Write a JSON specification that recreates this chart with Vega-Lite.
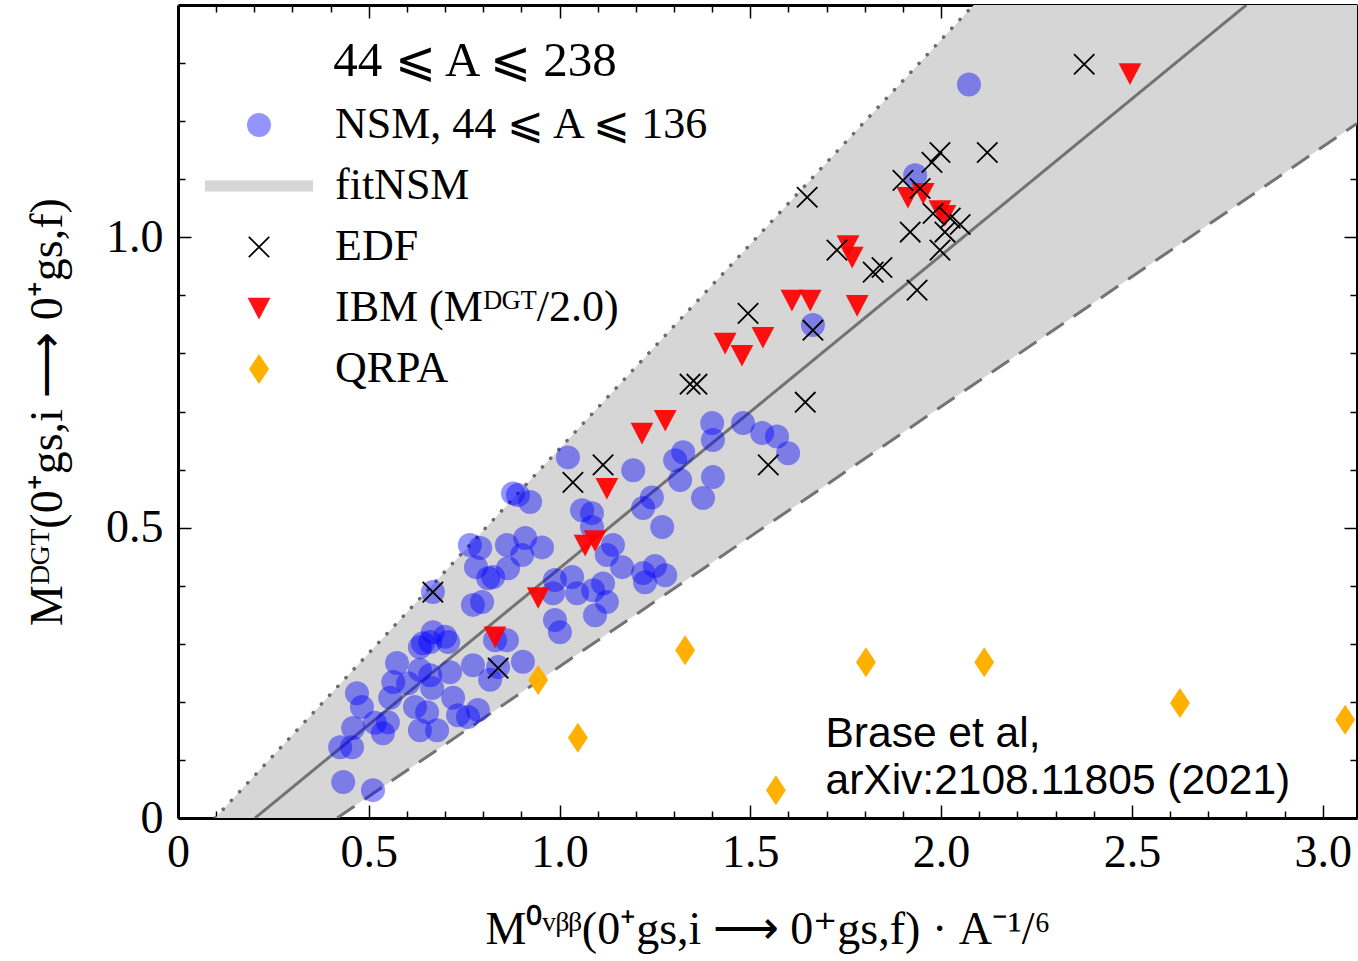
{
  "$schema": "https://vega.github.io/schema/vega-lite/v6.json",
  "width": 1179,
  "height": 813,
  "autosize": {"type": "none"},
  "padding": {"left": 178, "top": 5, "right": 1, "bottom": 143},
  "background": "white",
  "config": {
    "view": {"stroke": null},
    "axis": {
      "domainColor": "black", "domainWidth": 3, "tickColor": "black", "tickWidth": 1.5,
      "labelFont": "Liberation Serif", "labelFontSize": 46, "labelColor": "black",
      "titleFont": "Liberation Serif", "titleFontSize": 46, "titleFontWeight": "normal", "titleColor": "black",
      "grid": false, "labelOverlap": false, "labelFlush": false, "zindex": 1
    },
    "legend": {
      "titleFont": "Liberation Serif", "titleFontSize": 49, "titleFontWeight": "normal", "titleColor": "black",
      "titleAnchor": "middle", "titlePadding": 17, "titleLimit": 2000,
      "labelFont": "Liberation Serif", "labelFontSize": 44, "labelColor": "black", "labelLimit": 2000,
      "labelOffset": 54, "rowPadding": 17, "symbolSize": 576, "symbolStrokeWidth": 1.8, "symbolOpacity": 1, "padding": 0
    }
  },
  "datasets": {
    "band": [
      {"x": 0.097, "upper": 0, "lower": 0},
      {"x": 0.417, "upper": 0.2253, "lower": 0},
      {"x": 3.09, "upper": 2.107, "lower": 1.196}
    ],
    "lines": [
      {"line": "fit", "x": 0.202, "y": 0},
      {"line": "fit", "x": 2.80, "y": 1.40},
      {"line": "upper", "x": 0.097, "y": 0},
      {"line": "upper", "x": 2.085, "y": 1.40},
      {"line": "lower", "x": 0.417, "y": 0},
      {"line": "lower", "x": 3.09, "y": 1.196}
    ],
    "pts": [
      {"s":"NSM","x":0.433,"y":0.062},{"s":"NSM","x":0.511,"y":0.048},{"s":"NSM","x":0.425,"y":0.122},
      {"s":"NSM","x":0.456,"y":0.122},{"s":"NSM","x":0.459,"y":0.155},{"s":"NSM","x":0.516,"y":0.164},
      {"s":"NSM","x":0.537,"y":0.146},{"s":"NSM","x":0.550,"y":0.165},{"s":"NSM","x":0.469,"y":0.215},
      {"s":"NSM","x":0.482,"y":0.191},{"s":"NSM","x":0.556,"y":0.207},{"s":"NSM","x":0.564,"y":0.234},
      {"s":"NSM","x":0.603,"y":0.232},{"s":"NSM","x":0.621,"y":0.191},{"s":"NSM","x":0.653,"y":0.182},
      {"s":"NSM","x":0.634,"y":0.151},{"s":"NSM","x":0.679,"y":0.151},{"s":"NSM","x":0.574,"y":0.267},
      {"s":"NSM","x":0.634,"y":0.255},{"s":"NSM","x":0.661,"y":0.246},{"s":"NSM","x":0.666,"y":0.224},
      {"s":"NSM","x":0.713,"y":0.251},{"s":"NSM","x":0.721,"y":0.207},{"s":"NSM","x":0.734,"y":0.177},
      {"s":"NSM","x":0.760,"y":0.174},{"s":"NSM","x":0.786,"y":0.186},{"s":"NSM","x":0.773,"y":0.263},
      {"s":"NSM","x":0.818,"y":0.238},{"s":"NSM","x":0.839,"y":0.260},{"s":"NSM","x":0.904,"y":0.269},
      {"s":"NSM","x":0.634,"y":0.294},{"s":"NSM","x":0.642,"y":0.301},{"s":"NSM","x":0.668,"y":0.320},
      {"s":"NSM","x":0.661,"y":0.303},{"s":"NSM","x":0.700,"y":0.312},{"s":"NSM","x":0.708,"y":0.303},
      {"s":"NSM","x":0.831,"y":0.306},{"s":"NSM","x":0.862,"y":0.306},{"s":"NSM","x":0.668,"y":0.389},
      {"s":"NSM","x":0.773,"y":0.367},{"s":"NSM","x":0.797,"y":0.372},{"s":"NSM","x":0.781,"y":0.432},
      {"s":"NSM","x":0.813,"y":0.413},{"s":"NSM","x":0.765,"y":0.470},{"s":"NSM","x":0.792,"y":0.465},
      {"s":"NSM","x":0.826,"y":0.415},{"s":"NSM","x":0.865,"y":0.430},{"s":"NSM","x":0.862,"y":0.470},
      {"s":"NSM","x":0.910,"y":0.482},{"s":"NSM","x":0.954,"y":0.466},{"s":"NSM","x":0.902,"y":0.453},
      {"s":"NSM","x":0.988,"y":0.410},{"s":"NSM","x":1.033,"y":0.415},{"s":"NSM","x":0.983,"y":0.387},
      {"s":"NSM","x":1.046,"y":0.387},{"s":"NSM","x":1.088,"y":0.392},{"s":"NSM","x":1.114,"y":0.404},
      {"s":"NSM","x":1.124,"y":0.372},{"s":"NSM","x":1.093,"y":0.349},{"s":"NSM","x":1.219,"y":0.422},
      {"s":"NSM","x":1.250,"y":0.434},{"s":"NSM","x":1.277,"y":0.418},{"s":"NSM","x":1.224,"y":0.406},
      {"s":"NSM","x":0.988,"y":0.341},{"s":"NSM","x":1.001,"y":0.320},{"s":"NSM","x":1.140,"y":0.470},
      {"s":"NSM","x":1.164,"y":0.432},{"s":"NSM","x":1.124,"y":0.453},{"s":"NSM","x":1.022,"y":0.621},
      {"s":"NSM","x":1.193,"y":0.599},{"s":"NSM","x":0.878,"y":0.559},{"s":"NSM","x":0.891,"y":0.556},
      {"s":"NSM","x":0.923,"y":0.544},{"s":"NSM","x":1.059,"y":0.530},{"s":"NSM","x":1.085,"y":0.525},
      {"s":"NSM","x":1.085,"y":0.501},{"s":"NSM","x":1.242,"y":0.552},{"s":"NSM","x":1.219,"y":0.534},
      {"s":"NSM","x":1.269,"y":0.501},{"s":"NSM","x":1.316,"y":0.582},{"s":"NSM","x":1.324,"y":0.630},
      {"s":"NSM","x":1.303,"y":0.616},{"s":"NSM","x":1.402,"y":0.587},{"s":"NSM","x":1.376,"y":0.551},
      {"s":"NSM","x":1.400,"y":0.680},{"s":"NSM","x":1.402,"y":0.651},{"s":"NSM","x":1.481,"y":0.680},
      {"s":"NSM","x":1.531,"y":0.663},{"s":"NSM","x":1.570,"y":0.657},{"s":"NSM","x":1.599,"y":0.628},
      {"s":"NSM","x":1.664,"y":0.849},{"s":"NSM","x":1.932,"y":1.107},{"s":"NSM","x":2.073,"y":1.263},
      {"s":"QRPA","x":0.944,"y":0.2375},{"s":"QRPA","x":1.048,"y":0.138},{"s":"QRPA","x":1.329,"y":0.289},
      {"s":"QRPA","x":1.567,"y":0.048},{"s":"QRPA","x":1.803,"y":0.268},{"s":"QRPA","x":2.113,"y":0.268},
      {"s":"QRPA","x":2.626,"y":0.198},{"s":"QRPA","x":3.059,"y":0.169},
      {"s":"IBM","x":0.831,"y":0.312},{"s":"IBM","x":0.944,"y":0.380},{"s":"IBM","x":1.067,"y":0.470},
      {"s":"IBM","x":1.093,"y":0.478},{"s":"IBM","x":1.124,"y":0.568},{"s":"IBM","x":1.216,"y":0.663},
      {"s":"IBM","x":1.277,"y":0.685},{"s":"IBM","x":1.434,"y":0.818},{"s":"IBM","x":1.478,"y":0.797},
      {"s":"IBM","x":1.533,"y":0.828},{"s":"IBM","x":1.609,"y":0.892},{"s":"IBM","x":1.657,"y":0.892},
      {"s":"IBM","x":1.780,"y":0.883},{"s":"IBM","x":1.756,"y":0.986},{"s":"IBM","x":1.767,"y":0.966},
      {"s":"IBM","x":1.913,"y":1.069},{"s":"IBM","x":1.953,"y":1.076},{"s":"IBM","x":2.010,"y":1.038},
      {"s":"IBM","x":1.997,"y":1.046},{"s":"IBM","x":2.495,"y":1.282},
      {"s":"EDF","x":0.668,"y":0.389},{"s":"EDF","x":0.839,"y":0.258},{"s":"EDF","x":1.035,"y":0.578},
      {"s":"EDF","x":1.114,"y":0.608},{"s":"EDF","x":1.342,"y":0.747},{"s":"EDF","x":1.360,"y":0.747},
      {"s":"EDF","x":1.547,"y":0.608},{"s":"EDF","x":1.494,"y":0.869},{"s":"EDF","x":1.644,"y":0.716},
      {"s":"EDF","x":1.664,"y":0.840},{"s":"EDF","x":1.649,"y":1.069},{"s":"EDF","x":1.727,"y":0.978},
      {"s":"EDF","x":1.822,"y":0.940},{"s":"EDF","x":1.845,"y":0.948},{"s":"EDF","x":1.937,"y":0.909},
      {"s":"EDF","x":1.900,"y":1.098},{"s":"EDF","x":1.945,"y":1.084},{"s":"EDF","x":1.979,"y":1.041},
      {"s":"EDF","x":2.024,"y":1.033},{"s":"EDF","x":2.050,"y":1.022},{"s":"EDF","x":2.010,"y":1.009},
      {"s":"EDF","x":1.919,"y":1.009},{"s":"EDF","x":1.997,"y":0.978},{"s":"EDF","x":1.997,"y":1.146},
      {"s":"EDF","x":1.976,"y":1.129},{"s":"EDF","x":2.121,"y":1.146},{"s":"EDF","x":2.375,"y":1.298}
    ]
  },
  "layer": [
    {
      "data": {"name": "band"},
      "mark": {"type": "area", "color": "#d6d6d6", "clip": true},
      "encoding": {
        "x": {
          "field": "x", "type": "quantitative",
          "scale": {"domain": [0, 3.09], "nice": false, "zero": false},
          "axis": {
            "orient": "bottom",
            "values": [0,0.1,0.2,0.3,0.4,0.5,0.6,0.7,0.8,0.9,1.0,1.1,1.2,1.3,1.4,1.5,1.6,1.7,1.8,1.9,2.0,2.1,2.2,2.3,2.4,2.5,2.6,2.7,2.8,2.9,3.0],
            "tickSize": {"condition": {"test": "abs(datum.value*2-round(datum.value*2))<0.001", "value": -13}, "value": -7},
            "labelExpr": "abs(datum.value*2-round(datum.value*2))<0.001 ? (datum.value==0 ? '0' : format(datum.value,'.1f')) : ''",
            "labelPadding": 25,
            "title": "M⁰ᵛᵝᵝ(0⁺gs,i ⟶ 0⁺gs,f) · A⁻¹/⁶",
            "titlePadding": 26
          }
        },
        "y": {
          "field": "upper", "type": "quantitative",
          "scale": {"domain": [0, 1.4], "nice": false},
          "axis": {
            "orient": "left",
            "values": [0,0.1,0.2,0.3,0.4,0.5,0.6,0.7,0.8,0.9,1.0,1.1,1.2,1.3],
            "tickSize": {"condition": {"test": "abs(datum.value*2-round(datum.value*2))<0.001", "value": -13}, "value": -7},
            "labelExpr": "abs(datum.value*2-round(datum.value*2))<0.001 ? (datum.value==0 ? '0' : format(datum.value,'.1f')) : ''",
            "labelPadding": 28,
            "title": "Mᴰᴳᵀ(0⁺gs,i ⟶ 0⁺gs,f)",
            "titlePadding": 34
          }
        },
        "y2": {"field": "lower"}
      }
    },
    {
      "data": {"name": "lines"},
      "transform": [{"filter": "datum.line != 'upper'"}],
      "mark": {"type": "line", "color": "#737373", "strokeWidth": 3, "clip": true},
      "encoding": {
        "x": {"field": "x", "type": "quantitative", "axis": null},
        "y": {"field": "y", "type": "quantitative", "axis": null},
        "strokeDash": {
          "field": "line", "type": "nominal",
          "scale": {"domain": ["fit", "lower"], "range": [[1, 0], [21, 12]]},
          "legend": null
        }
      }
    },
    {
      "data": {"name": "lines"},
      "transform": [{"filter": "datum.line == 'upper'"}],
      "mark": {"type": "line", "color": "#6a6a6a", "strokeWidth": 3.6, "strokeCap": "round", "strokeDash": [0.1, 11.9], "clip": true},
      "encoding": {
        "x": {"field": "x", "type": "quantitative", "axis": null},
        "y": {"field": "y", "type": "quantitative", "axis": null}
      }
    },
    {
      "data": {"name": "pts"},
      "mark": {"type": "point", "filled": true, "strokeWidth": 1.8, "size": 576, "opacity": 1},
      "encoding": {
        "x": {
          "field": "x", "type": "quantitative",
          "axis": {
            "orient": "top", "labels": false, "title": null,
            "values": [0,0.1,0.2,0.3,0.4,0.5,0.6,0.7,0.8,0.9,1.0,1.1,1.2,1.3,1.4,1.5,1.6,1.7,1.8,1.9,2.0,2.1,2.2,2.3,2.4,2.5,2.6,2.7,2.8,2.9,3.0],
            "tickSize": {"condition": {"test": "abs(datum.value*2-round(datum.value*2))<0.001", "value": -13}, "value": -7}
          }
        },
        "y": {
          "field": "y", "type": "quantitative",
          "axis": {
            "orient": "right", "labels": false, "title": null,
            "values": [0,0.1,0.2,0.3,0.4,0.5,0.6,0.7,0.8,0.9,1.0,1.1,1.2,1.3],
            "tickSize": {"condition": {"test": "abs(datum.value*2-round(datum.value*2))<0.001", "value": -13}, "value": -7}
          }
        },
        "fill": {
          "field": "s", "type": "nominal",
          "scale": {"domain": ["NSM", "fit", "EDF", "IBM", "QRPA"], "range": ["rgba(0,0,255,0.42)", "#d6d6d6", "transparent", "rgba(255,0,0,0.93)", "#ffb000"]},
          "legend": {"title": "44 ⩽ A ⩽ 238", "orient": "none", "legendX": 59, "legendY": 32,
            "labelExpr": "{'NSM':'NSM, 44 ⩽ A ⩽ 136','fit':'fitNSM','EDF':'EDF','IBM':'IBM (Mᴰᴳᵀ/2.0)','QRPA':'QRPA'}[datum.label]"}
        },
        "stroke": {
          "field": "s", "type": "nominal",
          "scale": {"domain": ["NSM", "fit", "EDF", "IBM", "QRPA"], "range": ["transparent", "transparent", "#000000", "transparent", "transparent"]},
          "legend": {"title": "44 ⩽ A ⩽ 238", "orient": "none", "legendX": 59, "legendY": 32,
            "labelExpr": "{'NSM':'NSM, 44 ⩽ A ⩽ 136','fit':'fitNSM','EDF':'EDF','IBM':'IBM (Mᴰᴳᵀ/2.0)','QRPA':'QRPA'}[datum.label]"}
        },
        "shape": {
          "field": "s", "type": "nominal",
          "scale": {"domain": ["NSM", "fit", "EDF", "IBM", "QRPA"], "range": ["circle", "M-4.5,-0.46H4.5V0.46H-4.5Z", "M-0.85,-0.85L0.85,0.85M0.85,-0.85L-0.85,0.85", "M-0.95,-0.85L0.95,-0.85L0,0.95Z", "M0,-1.25L0.83,0L0,1.25L-0.83,0Z"]},
          "legend": {"title": "44 ⩽ A ⩽ 238", "orient": "none", "legendX": 59, "legendY": 32,
            "labelExpr": "{'NSM':'NSM, 44 ⩽ A ⩽ 136','fit':'fitNSM','EDF':'EDF','IBM':'IBM (Mᴰᴳᵀ/2.0)','QRPA':'QRPA'}[datum.label]"}
        }
      }
    },
    {
      "data": {"values": [{}]},
      "mark": {"type": "text", "text": ["Brase et al,", "arXiv:2108.11805 (2021)"], "font": "Liberation Sans", "fontSize": 42.5, "align": "left", "baseline": "alphabetic", "lineHeight": 47, "color": "black"},
      "encoding": {
        "x": {"datum": 1.697, "type": "quantitative", "axis": null},
        "y": {"datum": 0.1225, "type": "quantitative", "axis": null}
      }
    }
  ],
  "resolve": {"axis": {"x": "independent", "y": "independent"}}
}
